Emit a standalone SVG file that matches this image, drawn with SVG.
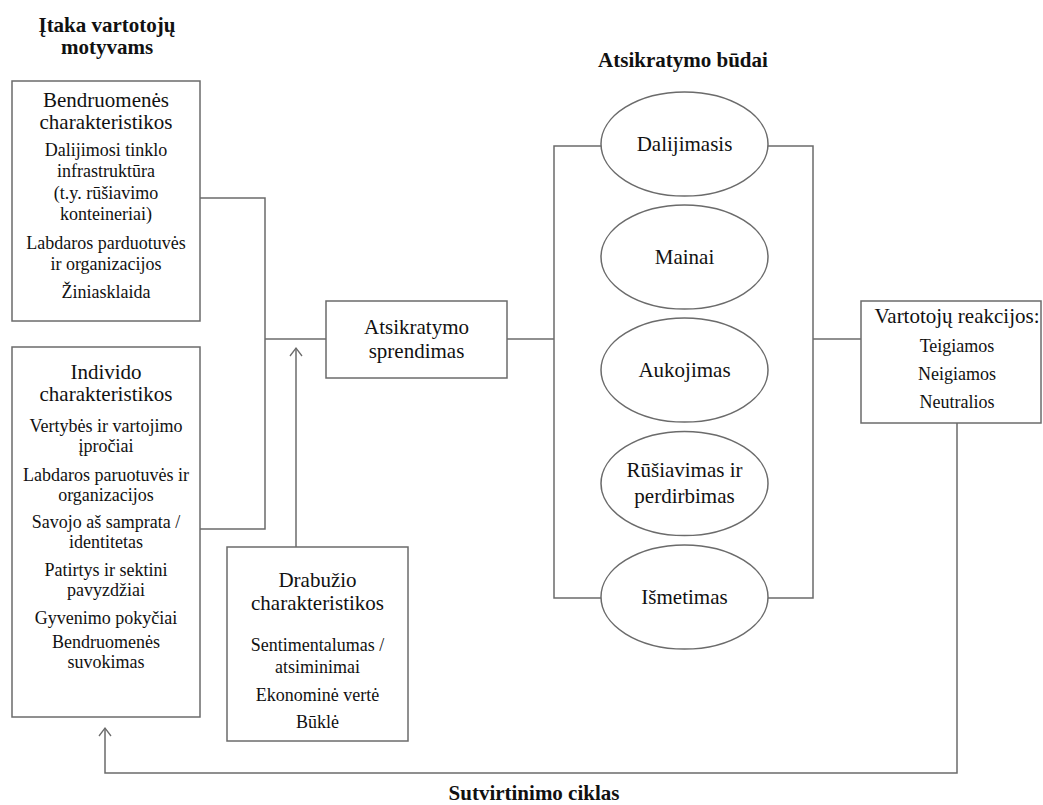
<svg xmlns="http://www.w3.org/2000/svg" width="1043" height="805" viewBox="0 0 1043 805" font-family="'Liberation Serif', 'Times New Roman', Times, serif">
<style>
text{font-family:'Liberation Serif','Times New Roman',Times,serif;fill:#111;text-anchor:middle}
.h{font-size:21px}
.i{font-size:18px}
.e{font-size:21px}
.b{font-size:21px;font-weight:bold}
.box{fill:#fff;stroke:#6b6b6b;stroke-width:1.5}
.ln{fill:none;stroke:#6b6b6b;stroke-width:1.5}
</style>
<defs>
<marker id="open" viewBox="-10 -8 12 16" markerWidth="12" markerHeight="16" refX="0" refY="0" orient="auto" markerUnits="userSpaceOnUse">
<path d="M-8,-6 L0,0 L-8,6" fill="none" stroke="#6b6b6b" stroke-width="1.3"/>
</marker>
</defs>
<rect width="1043" height="805" fill="#fff"/>

<!-- headings -->
<g id="headings">
<text class="b" x="107" y="32">Įtaka vartotojų</text>
<text class="b" x="107" y="54">motyvams</text>
<text class="b" x="683" y="67">Atsikratymo būdai</text>
<text class="b" x="534" y="800">Sutvirtinimo ciklas</text>
</g>

<!-- connectors -->
<g id="connectors">
<path class="ln" d="M200,198 H265 V529 H200"/>
<path class="ln" d="M265,339 H326"/>
<path class="ln" d="M296,547 V348" marker-end="url(#open)"/>
<path class="ln" d="M507,339 H554"/>
<path class="ln" d="M601,146 H554 V598 H601"/>
<path class="ln" d="M768,146 H813 V598 H768"/>
<path class="ln" d="M813,339 H861"/>
<path class="ln" d="M957,423 V773 H105 V728" marker-end="url(#open)"/>
</g>

<g id="bendruomenes">
<rect class="box" x="12" y="81" width="188" height="240"/>
<text class="h" x="106" y="107">Bendruomenės</text>
<text class="h" x="106" y="129">charakteristikos</text>
<text class="i" x="106" y="156">Dalijimosi tinklo</text>
<text class="i" x="106" y="177">infrastruktūra</text>
<text class="i" x="106" y="199">(t.y. rūšiavimo</text>
<text class="i" x="106" y="220">konteineriai)</text>
<text class="i" x="106" y="249">Labdaros parduotuvės</text>
<text class="i" x="106" y="270">ir organizacijos</text>
<text class="i" x="106" y="298">Žiniasklaida</text>
</g>

<g id="individo">
<rect class="box" x="12" y="347" width="188" height="370"/>
<text class="h" x="106" y="379">Individo</text>
<text class="h" x="106" y="401">charakteristikos</text>
<text class="i" x="106" y="432">Vertybės ir vartojimo</text>
<text class="i" x="106" y="452">įpročiai</text>
<text class="i" x="106" y="481">Labdaros paruotuvės ir</text>
<text class="i" x="106" y="501">organizacijos</text>
<text class="i" x="106" y="528">Savojo aš samprata /</text>
<text class="i" x="106" y="548">identitetas</text>
<text class="i" x="106" y="576">Patirtys ir sektini</text>
<text class="i" x="106" y="596">pavyzdžiai</text>
<text class="i" x="106" y="624">Gyvenimo pokyčiai</text>
<text class="i" x="106" y="648">Bendruomenės</text>
<text class="i" x="106" y="668">suvokimas</text>
</g>

<g id="drabuzio">
<rect class="box" x="227" y="547" width="181" height="194"/>
<text class="h" x="317.5" y="587">Drabužio</text>
<text class="h" x="317.5" y="610">charakteristikos</text>
<text class="i" x="317.5" y="651">Sentimentalumas /</text>
<text class="i" x="317.5" y="673">atsiminimai</text>
<text class="i" x="317.5" y="701">Ekonominė vertė</text>
<text class="i" x="317.5" y="728">Būklė</text>
</g>

<g id="sprendimas">
<rect class="box" x="326" y="301" width="181" height="77"/>
<text class="e" x="416.5" y="334">Atsikratymo</text>
<text class="e" x="416.5" y="358">sprendimas</text>
</g>

<g id="dalijimasis">
<ellipse class="box" cx="684.5" cy="144" rx="83.5" ry="52"/>
<text class="e" x="684.5" y="151">Dalijimasis</text>
</g>
<g id="mainai">
<ellipse class="box" cx="684.5" cy="257" rx="83.5" ry="52"/>
<text class="e" x="684.5" y="264">Mainai</text>
</g>
<g id="aukojimas">
<ellipse class="box" cx="684.5" cy="370" rx="83.5" ry="52"/>
<text class="e" x="684.5" y="377">Aukojimas</text>
</g>
<g id="rusiavimas">
<ellipse class="box" cx="684.5" cy="483.5" rx="83.5" ry="52"/>
<text class="e" x="684.5" y="477">Rūšiavimas ir</text>
<text class="e" x="684.5" y="503">perdirbimas</text>
</g>
<g id="ismetimas">
<ellipse class="box" cx="684.5" cy="597" rx="83.5" ry="52"/>
<text class="e" x="684.5" y="604">Išmetimas</text>
</g>

<g id="reakcijos">
<rect class="box" x="861" y="301" width="180" height="122"/>
<text class="e" x="957" y="323">Vartotojų reakcijos:</text>
<text class="i" x="957" y="352">Teigiamos</text>
<text class="i" x="957" y="380">Neigiamos</text>
<text class="i" x="957" y="408">Neutralios</text>
</g>
</svg>
